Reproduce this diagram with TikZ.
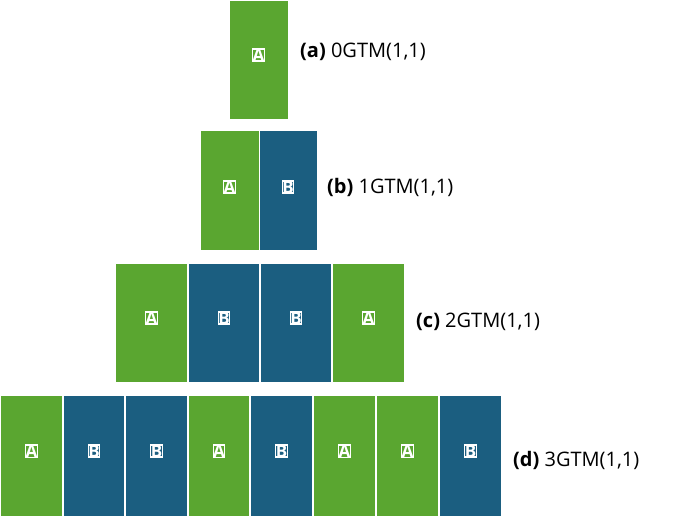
\documentclass[tikz,border=0pt]{standalone}
\usepackage{fontspec}
\setmainfont{Open Sans}
\definecolor{gA}{HTML}{5AA630}
\definecolor{bB}{HTML}{1B5E80}
\tikzset{cell/.style={draw=white,line width=1.2pt,minimum width=0,inner sep=0,font=\bfseries\fontsize{17}{17}\selectfont,text=white},
 lab/.style={anchor=west,font=\fontsize{20}{20}\selectfont,inner sep=0}}
\begin{document}
\begin{tikzpicture}[x=1pt,y=-1pt]
\useasboundingbox (0,0) rectangle (685,517);
% row a
\filldraw[gA,draw=white] (229,0) rectangle (288,119);
\node[cell] (a1) at (258.5,55) {A};
\node[lab] (la) at (300,52) {\textbf{(a)} 0GTM(1,1)};
% row b
\filldraw[gA,draw=white] (200,130) rectangle (259,250);
\filldraw[bB,draw=white] (259,130) rectangle (317,250);
\node[cell] (b1) at (229.5,187) {A};
\node[cell] (b2) at (288,187) {B};
\node[lab] (lb) at (327,187) {\textbf{(b)} 1GTM(1,1)};
% row c
\foreach \l/\r/\c/\t [count=\i] in {115/188/gA/A,188/260/bB/B,260/332/bB/B,332/405/gA/A}{
 \filldraw[\c,draw=white,line width=1.2pt] (\l,263) rectangle (\r,383);
 \node[cell] (c\i) at ({(\l+\r)/2},318) {\t};
}
\node[lab] (lc) at (416,322) {\textbf{(c)} 2GTM(1,1)};
% row d
\foreach \l/\r/\c/\t [count=\i] in {0/63/gA/A,63/125/bB/B,125/188/bB/B,188/250/gA/A,250/313/bB/B,313/376/gA/A,376/439/gA/A,439/502/bB/B}{
 \filldraw[\c,draw=white,line width=1.2pt] (\l,395) rectangle (\r,517);
 \node[cell] (d\i) at ({(\l+\r)/2},451) {\t};
}
\node[lab] (ld) at (513,460) {\textbf{(d)} 3GTM(1,1)};
\end{tikzpicture}
\end{document}
